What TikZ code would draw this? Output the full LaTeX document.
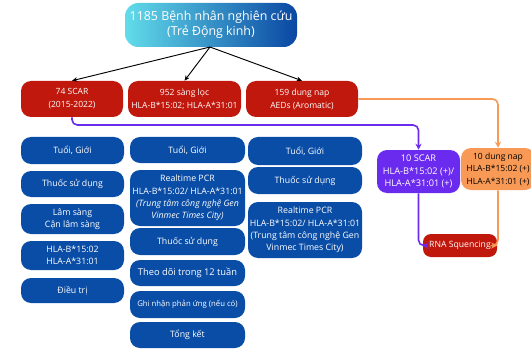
\documentclass[tikz,border=0pt]{standalone}
\usepackage{fontspec}
\setmainfont{Open Sans}
\usetikzlibrary{arrows.meta}
\definecolor{cblue}{HTML}{0A4DA6}
\definecolor{cred}{HTML}{C0180C}
\definecolor{cpur}{HTML}{6B2BEF}
\definecolor{cora}{HTML}{F89A55}
\definecolor{ccyan}{HTML}{62DCEA}
\definecolor{cdark}{HTML}{0A47A3}
\begin{document}
\begin{tikzpicture}[x=0.75pt,y=-0.75pt,
  box/.style={rounded corners=7.5pt, inner sep=0pt, align=center, text=white},
  bluebox/.style={box, fill=cblue, font=\fontsize{6.6}{9.2}\selectfont},
  redbox/.style={box, fill=cred, font=\fontsize{6.4}{9.75}\selectfont, minimum height=27pt},
  blk/.style={draw=black, line width=0.7pt, -{Stealth[length=4pt,width=3.5pt]}},
  purline/.style={draw=cpur, line width=1.2pt, rounded corners=4pt, -{Stealth[length=4.5pt,width=4.5pt]}},
  oraline/.style={draw=cora, line width=1.2pt, rounded corners=4pt, -{Stealth[length=4.5pt,width=4.5pt]}}
]
\useasboundingbox (0,0) rectangle (531,349);

% top
\node[box, rounded corners=10pt, left color=ccyan, right color=cdark, minimum width=129pt, minimum height=33pt,
  font=\fontsize{9.3}{11.5}\selectfont] (top) at (211,25) {1185 Bệnh nhân nghiên cứu\\(Trẻ Động kinh)};

% red row
\node[redbox, minimum width=76.5pt] (r1) at (72,99) {74 SCAR\\(2015-2022)};
\node[redbox, minimum width=84.75pt] (r2) at (184.5,99) {952 sàng lọc\\HLA-B*15:02; HLA-A*31:01};
\node[redbox, minimum width=84pt] (r3) at (302,99) {159 dung nap\\AEDs (Aromatic)};

% right side
\node[box, fill=cpur, minimum width=62.25pt, minimum height=32.25pt, font=\fontsize{6.9}{9.6}\selectfont] (scar) at (418.5,171.5) {10 SCAR\\HLA-B*15:02 (+)/\\HLA-A*31:01 (+)};
\node[box, fill=cora, text=black, minimum width=55.5pt, minimum height=31.5pt, font=\fontsize{6.4}{9.4}\selectfont] (dung) at (498,169) {10 dung nap\\HLA-B*15:02 (+)\\HLA-A*31:01 (+)};
\node[box, fill=cred, rounded corners=6pt, minimum width=55.5pt, minimum height=17.25pt, font=\fontsize{6.5}{8}\selectfont] (rna) at (460,245.5) {RNA Squencing};

% column 1
\node[bluebox, minimum width=77.25pt, minimum height=20.25pt] (a1) at (72.5,150.5) {Tuổi, Giới};
\node[bluebox, minimum width=77.25pt, minimum height=19.5pt] (a2) at (72.5,184) {Thuốc sử dụng};
\node[bluebox, minimum width=77.25pt, minimum height=22.5pt] (a3) at (72.5,219) {Lâm sàng\\Cận lâm sàng};
\node[bluebox, minimum width=77.25pt, minimum height=21.75pt] (a4) at (72.5,255.5) {HLA-B*15:02\\HLA-A*31:01};
\node[bluebox, minimum width=77.25pt, minimum height=18.75pt] (a5) at (72.5,290.5) {Điều trị};

% column 2
\node[bluebox, minimum width=86.25pt, minimum height=19.5pt] (b1) at (187.5,150) {Tuổi, Giới};
\node[bluebox, minimum width=86.25pt, minimum height=42pt] (b2) at (187.5,198) {Realtime PCR\\HLA-B*15:02/ HLA-A*31:01\\\textit{(Trung tâm công nghệ Gen}\\\textit{Vinmec Times City)}};
\node[bluebox, minimum width=86.25pt, minimum height=20.25pt] (b3) at (187.5,241.5) {Thuốc sử dụng};
\node[bluebox, minimum width=86.25pt, minimum height=19.5pt, font=\fontsize{7}{9}\selectfont] (b4) at (187.5,273) {Theo dõi trong 12 tuần};
\node[bluebox, minimum width=86.25pt, minimum height=20.25pt, font=\fontsize{5.8}{8}\selectfont] (b5) at (187.5,304.5) {Ghi nhận phản ứng (nếu có)};
\node[bluebox, minimum width=86.25pt, minimum height=19.5pt] (b6) at (187.5,335) {Tổng kết};

% column 3
\node[bluebox, minimum width=85.5pt, minimum height=21pt] (c1) at (305,151) {Tuổi, Giới};
\node[bluebox, minimum width=85.5pt, minimum height=20.25pt] (c2) at (305,180.5) {Thuốc sử dụng};
\node[bluebox, minimum width=85.5pt, minimum height=42pt] (c3) at (305,230) {Realtime PCR\\HLA-B*15:02/ HLA-A*31:01\\(Trung tâm công nghệ Gen\\Vinmec Times City)};

% connectors
\coordinate (src) at (210,47);
\draw[blk] (src) -- (r1.north);
\draw[blk] (src) -- (r2.north);
\draw[blk] (src) -- (r3.north);

\coordinate (pbend) at (418.5,125);
\draw[purline] (r1.south) |- (pbend) -- (scar.north);
\draw[oraline] (r3.east) -| (dung.north);
\draw[purline] (scar.south) |- (rna.west);
\draw[oraline] (dung.south) |- (rna.east);
\end{tikzpicture}
\end{document}
